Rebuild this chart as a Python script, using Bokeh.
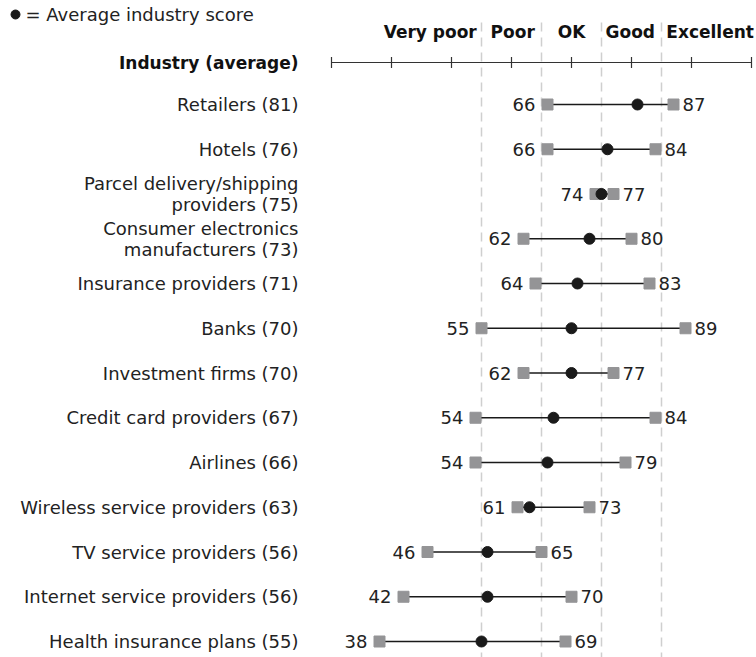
from bokeh.plotting import figure
from bokeh.models import Range1d, ColumnDataSource
from bokeh.core.properties import value
from bokeh.embed import file_html
from bokeh.resources import INLINE

industries = [
    "Retailers (81)", "Hotels (76)", "Parcel delivery/shipping\nproviders (75)",
    "Consumer electronics\nmanufacturers (73)", "Insurance providers (71)", "Banks (70)",
    "Investment firms (70)", "Credit card providers (67)", "Airlines (66)",
    "Wireless service providers (63)", "TV service providers (56)",
    "Internet service providers (56)", "Health insurance plans (55)",
]
low = [66, 66, 74, 62, 64, 55, 62, 54, 54, 61, 46, 42, 38]
high = [87, 84, 77, 80, 83, 89, 77, 84, 79, 73, 65, 70, 69]
avg = [81, 76, 75, 73, 71, 70, 70, 67, 66, 63, 56, 56, 55]
tick_values = [30, 40, 50, 60, 70, 80, 90, 100]
bands = [55, 65, 75, 85]
band_labels = ["Very poor", "Poor", "OK", "Good", "Excellent"]
band_label_x = [54.2, 60.2, 70, 79.8, 85.8]
band_label_align = ["right", "center", "center", "center", "left"]

FONT = "DejaVu Sans"
REG = "18px"
W, H = 756, 657
x0_px, ppu = 151.0, 6.0
row0_px, row_step = 104.0, 44.75

def px_to_row(py):
    return (py - row0_px) / row_step

def px_to_x(px):
    return (px - x0_px) / ppu

p = figure(width=W, height=H, output_backend="svg", toolbar_location=None,
           x_range=Range1d(px_to_x(0), px_to_x(W)),
           y_range=Range1d(px_to_row(H), px_to_row(0)),
           min_border=0, outline_line_color=None)
p.axis.visible = False
p.grid.visible = False
p.background_fill_color = "white"
p.border_fill_color = "white"

rows = list(range(len(industries)))
src = ColumnDataSource(dict(row=rows, low=low, high=high, avg=avg, name=industries,
                            low_s=[str(v) for v in low], high_s=[str(v) for v in high]))

# dashed band lines
y_top = px_to_row(22)
y_bot = px_to_row(H)
p.segment(x0=bands, x1=bands, y0=[y_top]*len(bands), y1=[y_bot]*len(bands),
          line_color="#cfcfcf", line_width=1.5, line_dash="9 6")

# axis line with ticks
axis_y = px_to_row(62)
p.segment(x0=[tick_values[0]], x1=[tick_values[-1]], y0=[axis_y], y1=[axis_y],
          line_color="#333333", line_width=1.2)
tick_half = 5.5 / row_step
p.segment(x0=tick_values, x1=tick_values, y0=[axis_y - tick_half]*len(tick_values),
          y1=[axis_y + tick_half]*len(tick_values), line_color="#333333", line_width=1.2)

# band labels
p.text(x=band_label_x, y=[px_to_row(31)]*5, text=band_labels, text_align=band_label_align,
       text_baseline="middle", text_font=value(FONT), text_font_style="bold",
       text_font_size="17px", text_color="#111111")

# header
p.text(x=[px_to_x(298)], y=[axis_y], text=["Industry (average)"], text_align="right",
       text_baseline="middle", text_font=value(FONT), text_font_style="bold",
       text_font_size="17px", text_color="#111111")

# legend
leg_y = px_to_row(14)
p.scatter(x=[px_to_x(15)], y=[leg_y], size=9, marker="circle", color="#1a1a1a")
p.text(x=[px_to_x(25)], y=[leg_y], text=["= Average industry score"], text_align="left",
       text_baseline="middle", text_font=value(FONT), text_font_size=REG,
       text_color="#222222")

# industry labels
p.text(x=px_to_x(298), y="row", text="name", source=src, text_align="right",
       text_baseline="middle", text_font=value(FONT), text_font_size=REG,
       text_color="#222222", text_line_height=1.0)

# range lines
p.segment(x0="low", x1="high", y0="row", y1="row", source=src, line_color="#1a1a1a",
          line_width=1.3)
p.scatter(x="low", y="row", source=src, marker="square", size=11, color="#949496")
p.scatter(x="high", y="row", source=src, marker="square", size=11, color="#949496")
p.scatter(x="avg", y="row", source=src, marker="circle", size=11, color="#1a1a1a")

p.text(x="low", y="row", text="low_s", source=src, x_offset=-12, text_align="right",
       text_baseline="middle", text_font=value(FONT), text_font_size=REG,
       text_color="#222222")
p.text(x="high", y="row", text="high_s", source=src, x_offset=9, text_align="left",
       text_baseline="middle", text_font=value(FONT), text_font_size=REG,
       text_color="#222222")

open("out.html", "w").write(file_html(p, INLINE))
